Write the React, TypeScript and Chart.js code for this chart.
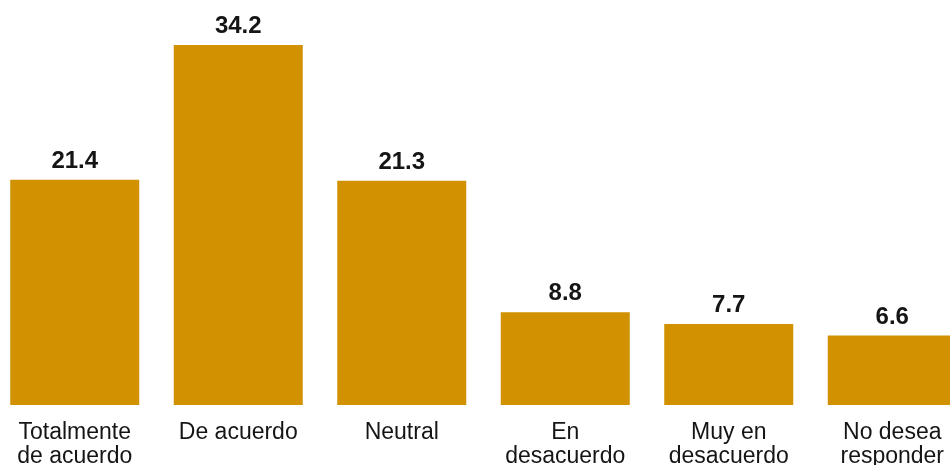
import React, { useEffect, useRef } from "react";
import { Chart, registerables } from "chart.js";

Chart.register(...registerables);

const categories: string[][] = [
  ["Totalmente", "de acuerdo"],
  ["De acuerdo"],
  ["Neutral"],
  ["En", "desacuerdo"],
  ["Muy en", "desacuerdo"],
  ["No desea", "responder"],
];
const values: number[] = [21.4, 34.2, 21.3, 8.8, 7.7, 6.6];
const valueLabels: string[] = ["21.4", "34.2", "21.3", "8.8", "7.7", "6.6"];

const BAR_COLOR = "#D19100";
const FONT = "'Liberation Sans', Arial, Helvetica, sans-serif";

const valueLabelPlugin = {
  id: "valueLabels",
  afterDatasetsDraw(chart: any) {
    const ctx = chart.ctx;
    const meta = chart.getDatasetMeta(0);
    ctx.save();
    ctx.font = `bold 24px ${FONT}`;
    ctx.fillStyle = "#151515";
    ctx.textAlign = "center";
    ctx.textBaseline = "alphabetic";
    meta.data.forEach((bar: any, i: number) => {
      ctx.fillText(valueLabels[i], bar.x, bar.y - 12);
    });
    ctx.restore();
  },
};

export default function App() {
  const ref = useRef<HTMLCanvasElement | null>(null);
  useEffect(() => {
    if (!ref.current) return;
    const chart = new Chart(ref.current, {
      type: "bar",
      data: {
        labels: categories as any,
        datasets: [
          {
            data: values,
            backgroundColor: BAR_COLOR,
            borderWidth: 0,
            categoryPercentage: 1,
            barPercentage: 0.789,
          },
        ],
      },
      options: {
        responsive: false,
        animation: false,
        maintainAspectRatio: false,
        layout: { padding: { top: 45, left: 0, right: 0, bottom: 0 } },
        plugins: {
          legend: { display: false },
          tooltip: { enabled: false },
        },
        scales: {
          x: {
            grid: { display: false, drawTicks: false },
            border: { display: false },
            ticks: {
              color: "#151515",
              padding: 15,
              font: { family: FONT, size: 23, lineHeight: 1.06 },
              maxRotation: 0,
              autoSkip: false,
            },
            afterFit: (scale: any) => {
              scale.height = 85;
            },
          },
          y: {
            display: false,
            min: 0,
            max: 34.2,
          },
        },
      },
      plugins: [valueLabelPlugin],
    });
    return () => chart.destroy();
  }, []);
  return (
    <div
      style={{
        position: "fixed",
        left: 0,
        top: 0,
        width: 950,
        height: 465,
        overflow: "hidden",
        background: "#ffffff",
      }}
    >
      <canvas
        ref={ref}
        width={981}
        height={490}
        style={{ position: "absolute", left: -7.25, top: 0, width: 981, height: 490 }}
      />
    </div>
  );
}
